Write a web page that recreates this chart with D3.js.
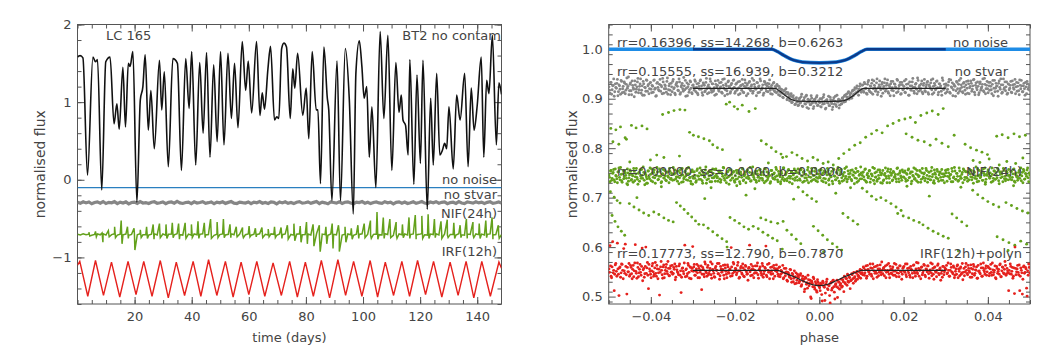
<!DOCTYPE html>
<html>
<head>
<meta charset="utf-8">
<script src="https://cdn.jsdelivr.net/npm/d3@7"></script>
<style>
body{margin:0;background:#fff;}
text{font-family:"DejaVu Sans",sans-serif;fill:#444;}
</style>
</head>
<body>
<div class="canvas"></div>
<script>
//------------------------ LEFT PANEL DATA (time in days, normalised flux as plotted)
// LC 165, BT2 no contam : [time, flux] read off the peaks and troughs
const lc165 = [[0,1.58],[0.9,1.6],[1.9,1.57],[3.5,0.06],[5.4,1.58],[6.3,1.52],[7.0,1.55],[8.5,-0.13],[9.9,1.52],[11.4,1.58],
 [12.8,0.72],[13.8,0.98],[14.6,0.65],[15.9,1.45],[16.8,0.68],[17.8,1.5],[18.4,1.46],[19.4,1.65],[20.8,-0.29],[22.0,1.03],
 [22.9,1.2],[23.7,1.61],[24.8,0.64],[25.7,1.15],[26.9,0.4],[28.7,1.54],[29.5,0.9],[30.4,1.39],[31.8,0.17],[33.4,1.56],
 [35.0,1.5],[36.4,0.12],[37.9,1.56],[39.1,0.92],[40.0,1.65],[41.4,0.19],[42.8,1.51],[44.0,0.6],[45.2,1.64],[46.4,0.29],
 [47.7,1.48],[48.9,0.49],[50.1,1.65],[51.3,0.45],[52.7,1.63],[53.9,0.79],[55.0,1.5],[56.2,0.67],[57.7,1.78],[58.9,1.15],
 [59.8,1.53],[61.0,0.86],[62.7,1.78],[63.9,0.83],[64.7,1.12],[65.5,0.91],[66.7,1.43],[67.6,1.72],[69.0,0.77],[69.8,0.81],
 [70.5,0.79],[71.5,1.69],[72.3,1.76],[73.2,1.71],[74.5,0.79],[75.4,1.43],[76.1,1.18],[77.1,1.63],[78.9,0.83],[80.1,1.18],
 [81.0,0.53],[82.2,1.65],[83.6,0.9],[84.2,0.9],[85.1,-0.05],[86.3,1.71],[87.5,1.05],[88.0,0.9],[89.1,-0.27],[90.9,1.53],
 [92.1,-0.27],[93.8,1.69],[95.2,1.03],[96.6,-0.44],[97.5,1.37],[98.7,1.79],[99.6,1.46],[100.4,1.05],[101.3,1.2],[102.2,0.29],
 [103.1,0.94],[104.5,-0.1],[106.0,1.91],[107.3,0.79],[108.7,1.86],[110.1,0.12],[111.5,1.51],[112.6,0.87],[113.4,1.09],[114.0,0.77],
 [114.9,0.7],[115.8,0.32],[116.4,1.55],[117.8,-0.06],[118.9,1.35],[120.1,0.21],[121.0,1.54],[122.5,-0.38],[123.7,1.05],[124.6,0.19],
 [125.8,1.37],[126.9,0.32],[127.8,0.38],[128.6,0.47],[129.3,0.4],[130.1,0.94],[131.6,0.14],[132.8,1.09],[134.0,0.77],[135.6,1.37],
 [136.8,0.17],[137.9,1.18],[138.9,0.64],[140.0,0.96],[141.4,1.58],[142.3,0.29],[143.3,1.28],[144.1,1.11],[145.3,1.86],[146.7,0.45],
 [147.6,1.25],[148.5,1.1]];

const noNoiseLevel = -0.1;
const stvarLevel = -0.295;
const nifLevel = -0.705;

// no stvar residuals (milli-flux), one per day
const stvarResid = [5,-8,12,-3,9,-14,2,11,-6,15,-10,4,-2,13,-12,7,-5,10,-15,3,
 8,-9,14,-4,1,-11,6,12,-7,-1,10,-13,5,9,-6,16,-3,-10,2,7,
 -12,11,-5,3,13,-8,0,9,-14,6,-2,12,-9,4,15,-6,-11,8,1,-4,
 10,-13,7,-1,14,-7,3,-10,11,5,-15,9,-3,12,-8,2,-12,6,13,-5,
 -1,10,-9,4,15,-11,7,-2,-14,9,3,-6,12,-10,5,11,-4,-13,8,1,
 14,-7,6,-12,2,10,-3,-9,13,-1,7,-15,4,11,-6,9,-10,0,12,-8,
 3,15,-5,-11,8,-2,13,-7,5,10,-13,1,6,-9,14,-4,-12,9,2,-6,
 11,-3,7,-10,4,12,-8,-1,9,-5];

// NIF(24h) residuals (milli-flux), one per day
const nifResid = [3,-6,8,-2,5,-9,1,7,-4,10,-7,2,-1,9,-8,4,-3,6,-10,2,
 6,-5,9,-3,0,-8,4,8,-5,-1,7,-9,3,6,-4,10,-2,-7,1,5,
 -8,7,-3,2,9,-6,0,6,-10,4,-1,8,-6,3,10,-4,-7,5,1,-3,
 7,-9,5,-1,9,-5,2,-7,8,3,-10,6,-2,8,-5,1,-8,4,9,-3,
 -1,7,-6,3,10,-7,5,-2,-9,6,2,-4,8,-7,3,7,-3,-9,5,1,
 9,-5,4,-8,2,7,-2,-6,9,-1,5,-10,3,7,-4,6,-7,0,8,-5,
 2,10,-3,-7,5,-1,9,-5,3,7,-9,1,4,-6,9,-3,-8,6,1,-4,
 7,-2,5,-7,3,8,-5,-1,6,-3];

// NIF(24h) spikes : [time, height up, depth down]
const nifSpikes = [[4.0,.03,.02],[6.3,.04,.03],[8.6,.02,.10],[10.8,.05,.03],[13.0,.10,.04],[15.3,.18,.12],[17.5,.10,.05],
 [19.8,.08,.20],[22.0,.06,.04],[24.2,.10,.05],[26.5,.13,.06],[28.7,.14,.04],[31.0,.13,.05],[33.2,.15,.04],[35.4,.14,.06],
 [37.7,.15,.05],[39.9,.13,.04],[42.2,.17,.05],[44.4,.15,.04],[46.6,.20,.05],[48.9,.16,.04],[51.1,.20,.04],[53.4,.13,.04],
 [55.6,.10,.03],[57.8,.09,.04],[60.1,.11,.03],[62.3,.08,.03],[64.6,.09,.04],[66.8,.07,.03],[69.0,.10,.04],[71.3,.09,.05],
 [73.5,.12,.06],[75.8,.14,.08],[78.0,.11,.10],[80.2,.16,.12],[82.5,.13,.15],[84.7,.12,.22],[87.0,.10,.12],[89.2,.14,.18],
 [91.4,.12,.22],[93.7,.10,.10],[95.9,.08,.06],[98.2,.12,.05],[100.4,.14,.04],[102.6,.18,.05],[104.9,.29,.06],[107.1,.22,.05],
 [109.4,.20,.04],[111.6,.16,.05],[113.8,.13,.04],[116.1,.22,.05],[118.3,.25,.06],[120.6,.24,.05],[122.8,.26,.05],[125.0,.20,.04],
 [127.3,.17,.05],[129.5,.19,.04],[131.8,.15,.05],[134.0,.12,.04],[136.2,.20,.05],[138.5,.16,.04],[140.7,.14,.05],[143.0,.18,.04],
 [145.2,.22,.06],[147.4,.12,.05]];

// IRF(12h) : [time, flux] peaks and troughs
const irf12 = [[0,-1.10],[0.8,-1.05],[3.6,-1.50],[6.3,-1.04],[9.1,-1.49],[11.9,-1.06],[14.8,-1.51],[17.7,-1.05],[20.5,-1.48],
 [23.2,-1.05],[26.1,-1.50],[29.0,-1.04],[31.8,-1.52],[34.6,-1.06],[37.5,-1.49],[40.5,-1.05],[43.2,-1.50],[45.9,-1.03],
 [48.8,-1.49],[51.8,-1.05],[54.5,-1.51],[57.3,-1.06],[60.0,-1.48],[62.8,-1.05],[65.6,-1.50],[68.5,-1.07],[71.4,-1.49],
 [74.3,-1.05],[77.0,-1.51],[79.8,-1.06],[82.6,-1.50],[85.4,-1.04],[88.3,-1.52],[91.2,-1.03],[93.9,-1.49],[96.7,-1.05],
 [99.6,-1.50],[102.5,-1.04],[105.1,-1.51],[107.8,-1.06],[110.7,-1.49],[113.6,-1.05],[116.3,-1.50],[119.1,-1.04],[121.9,-1.48],
 [124.7,-1.05],[127.6,-1.51],[130.5,-1.06],[133.3,-1.49],[136.1,-1.05],[138.8,-1.52],[141.6,-1.05],[144.6,-1.50],[147.6,-1.06],
 [148.5,-1.14]];

const lcXTicks = [20,40,60,80,100,120,140];
const lcYTicks = [-1,0,1,2];

//------------------------ RIGHT PANEL DATA (phase, normalised flux)
// no noise : data and fitted model
const phNoNoise = [[-0.05,1.0],[-0.0113,1.0],[-0.0100,0.9955],[-0.0085,0.988],[-0.0070,0.981],[-0.0055,0.9765],[-0.0040,0.974],
 [0,0.9725],[0.0040,0.974],[0.0055,0.9765],[0.0070,0.981],[0.0085,0.988],[0.0100,0.9955],[0.0113,1.0],[0.05,1.0]];
const fitNoNoise = [[-0.03,1.0],[-0.0113,1.0],[-0.0100,0.9955],[-0.0085,0.988],[-0.0070,0.981],[-0.0055,0.9765],[-0.0040,0.974],
 [0,0.9725],[0.0040,0.974],[0.0055,0.9765],[0.0070,0.981],[0.0085,0.988],[0.0100,0.9955],[0.0113,1.0],[0.03,1.0]];
const fitNoStvar = [[-0.03,0.921],[-0.0105,0.921],[-0.0095,0.916],[-0.008,0.906],[-0.0065,0.898],[-0.005,0.895],[0,0.894],
 [0.005,0.895],[0.0065,0.898],[0.008,0.906],[0.0095,0.916],[0.0105,0.921],[0.03,0.921]];
const fitIrf = [[-0.03,0.553],[-0.010,0.553],[-0.008,0.547],[-0.006,0.540],[-0.004,0.532],[-0.002,0.525],[0,0.522],
 [0.002,0.525],[0.004,0.532],[0.006,0.540],[0.008,0.547],[0.010,0.553],[0.03,0.553]];

// display shift of the dense NIF(24h) band (flux)
const nifBandShift = -0.005;

// folded points, milli-flux, in phase order from -0.05 to 0.05 (two interleaved halves of the run)
const phStvarA = [924,911,933,918,927,905,930,921,939,914,926,909,935,920,913,931,917,942,925,908,
 929,916,936,922,904,928,919,934,912,925,940,917,907,930,923,915,937,926,910,932,
 919,927,913,938,921,906,933,918,929,915,924,941,911,928,920,935,909,926,917,931,
 914,939,922,908,930,925,916,934,912,927,920,943,918,905,932,924,913,936,921,910,
 928,917,935,923,911,931,919,938,926,907,929,914,933,920,925,912,940,918,930,915,
 922,936,909,927,918,932,924,913,939,921,906,930,916,934,925,911,928,919,937,923,
 914,931,920,908,935,926,917,929,912,938,922,927,910,933,918,925,941,915,929,921,
 906,932,924,913,936,919,928,911,934,920,926,914,930,917,923,909,931,916,925,912,
 926,908,921,913,918,903,915,909,920,898,912,904,897,910,893,906,899,889,902,894,
 887,901,893,909,884,897,890,905,882,899,893,888,906,891,880,898,894,903,886,896,
 892,884,900,889,908,895,881,898,891,886,903,893,878,897,889,905,884,894,899,887,
 896,890,902,893,907,897,903,912,899,908,903,915,906,918,910,921,913,907,925,916,
 919,928,913,930,921,909,934,917,926,912,938,920,927,915,932,908,923,936,918,929,
 911,925,940,919,931,914,927,906,935,922,916,930,924,912,937,920,928,909,933,918,
 925,913,939,921,930,907,926,917,934,923,911,929,919,942,915,927,920,936,910,931,
 916,924,933,912,928,921,938,909,925,931,918,935,922,913,930,926,907,937,919,923,
 930,914,927,939,911,924,932,918,926,905,935,920,929,915,941,923,912,933,917,928,
 921,936,910,925,931,919,938,913,927,922,934,908,930,917,924,940,914,929,920,935,
 912,926,933,918,929,906,937,921,925,915,931,923,940,911,928,919,934,924,909,930,
 918,927,913,936,922,929,910,933,925,916,938,920,926,914,931,907,924,935,919,928];
const phStvarB = [917,933,909,926,940,914,923,931,906,928,919,937,912,925,934,910,929,921,944,916,
 932,908,927,919,936,913,924,941,918,930,911,926,935,907,922,938,915,929,920,933,
 912,925,937,919,905,931,923,916,939,927,910,934,920,926,913,942,918,930,908,924,
 935,920,911,928,933,917,940,909,924,931,915,926,937,921,906,929,918,934,912,927,
 923,938,914,930,908,925,936,919,912,932,927,916,941,910,928,922,935,913,930,918,
 907,929,924,937,915,921,933,911,927,940,918,926,909,936,923,914,931,920,938,911,
 929,917,934,922,910,927,939,913,925,932,906,930,921,935,916,928,911,937,924,919,
 933,912,926,940,918,922,907,935,929,915,931,924,938,910,927,919,933,914,921,929,
 915,925,906,919,911,902,917,908,913,900,909,896,905,892,903,898,888,900,893,886,
 899,891,904,885,896,902,889,907,893,880,897,888,901,894,884,899,891,906,887,895,
 900,883,894,903,890,879,897,892,905,886,898,890,883,902,895,888,907,893,881,896,
 889,901,897,905,894,909,900,914,904,911,901,917,909,922,912,926,915,919,930,913,
 927,916,933,920,911,929,937,914,925,931,909,936,922,918,940,913,928,924,905,933,
 920,932,915,927,938,911,924,930,917,935,906,929,921,939,914,926,933,910,928,919,
 936,912,929,921,907,934,918,926,941,915,923,931,910,937,924,917,930,913,927,939,
 914,928,935,909,925,932,918,940,912,927,920,936,908,930,923,915,942,919,929,911,
 927,919,934,913,938,922,906,929,925,916,933,911,937,920,928,914,931,924,909,935,
 911,930,922,936,915,926,939,908,932,918,925,912,934,921,929,916,941,910,927,920,
 933,917,925,910,937,921,914,931,926,905,936,919,928,913,940,922,916,934,911,929,
 921,935,912,928,919,939,924,915,932,908,927,937,914,926,920,933,910,930,923,917];

const phNifA = [751,737,760,744,756,741,763,748,735,757,746,766,739,753,743,759,750,733,755,745,
 761,740,752,736,758,747,764,742,754,738,749,762,744,756,731,751,743,759,747,765,
 739,755,746,761,734,750,757,742,763,748,737,753,745,760,740,756,749,735,758,744,
 752,766,741,754,747,738,759,745,762,736,751,743,757,749,764,740,753,746,733,761,
 744,757,750,739,763,748,755,742,760,734,752,746,767,741,756,749,737,758,745,754,
 762,738,751,747,759,743,736,755,748,765,740,753,745,758,732,750,761,744,756,739,
 749,760,743,754,737,757,746,763,741,752,735,759,748,744,766,739,755,750,742,758,
 736,753,747,761,744,756,740,751,764,738,757,745,749,734,760,752,743,755,747,762,
 741,758,750,737,754,746,765,742,753,739,760,748,744,757,733,751,763,745,756,740,
 755,743,761,749,736,758,745,752,740,766,747,754,738,759,750,742,764,746,737,753,
 748,762,739,755,744,757,735,751,760,743,753,747,738,763,749,741,756,745,761,734,
 757,745,752,740,764,748,737,759,746,754,742,761,750,733,755,744,758,739,752,767,
 743,756,747,762,738,751,745,759,736,753,749,740,764,746,757,742,750,761,735,754,
 760,741,754,748,735,763,744,756,750,739,758,746,752,737,765,743,755,749,740,757,
 746,759,738,752,761,745,754,733,757,748,742,763,739,751,747,760,736,755,744,753,
 739,764,750,743,756,741,759,747,735,761,752,744,758,738,755,746,762,740,753,749,
 755,738,762,747,751,737,758,745,766,742,754,748,740,759,744,752,735,761,746,757,
 744,757,741,753,760,746,734,756,749,743,763,738,751,747,758,740,754,765,742,750,
 761,747,755,736,752,744,759,742,750,764,739,757,745,753,737,760,748,743,756,741,
 750,742,758,746,762,738,753,747,740,756,744,765,749,735,759,743,752,761,745,755];
const phNifB = [746,759,740,754,762,737,750,743,757,765,741,752,736,760,747,755,744,763,738,751,
 758,742,749,764,739,753,746,732,756,761,744,750,767,740,755,747,734,759,743,752,
 763,737,756,745,751,766,741,748,758,735,753,762,744,749,739,757,746,764,742,754,
 740,752,761,743,758,747,733,755,750,764,737,746,759,741,753,766,745,738,757,748,
 757,744,736,760,749,742,765,751,739,756,747,761,734,754,743,758,750,737,763,745,
 748,763,745,738,755,759,741,753,766,744,750,735,757,747,762,740,752,745,758,736,
 742,755,760,747,733,752,764,739,749,757,745,761,743,756,738,751,767,746,754,740,
 759,746,739,762,751,744,757,735,763,748,741,755,750,737,760,745,753,742,766,749,
 737,753,747,758,742,765,739,751,756,744,762,736,748,757,743,754,740,759,747,763,
 754,740,763,749,756,738,752,745,761,735,757,746,764,741,750,758,739,753,744,760,
 745,761,752,737,759,743,756,764,740,751,747,758,733,762,748,741,755,766,738,752,
 762,738,749,756,744,767,742,753,747,760,739,751,757,745,764,736,758,750,743,755,
 750,757,741,763,736,754,748,760,743,752,766,740,755,747,738,761,744,756,751,734,
 739,751,765,744,758,749,735,762,754,741,756,748,743,764,752,737,759,745,761,747,
 756,743,754,740,763,746,757,738,750,765,744,753,760,736,749,758,742,764,747,755,
 744,760,736,757,748,741,766,752,739,755,746,762,743,751,757,740,753,747,735,760,
 761,748,755,743,752,764,737,747,759,742,754,738,765,748,744,756,763,741,758,746,
 738,756,762,747,741,753,758,744,767,737,749,760,745,755,740,763,750,736,752,757,
 753,744,748,765,738,759,742,756,745,761,733,752,757,747,764,743,739,758,750,762,
 747,758,741,753,763,736,755,749,744,760,751,739,756,762,742,754,748,765,737,751];

const phIrfA = [556,603,541,560,548,512,564,551,608,545,558,539,566,553,597,547,561,505,550,567,
 544,559,536,563,552,605,547,568,540,555,549,561,532,557,546,600,558,543,565,551,
 538,562,550,545,569,541,556,548,503,560,553,537,564,546,559,551,571,542,557,549,
 563,547,555,534,561,550,544,566,552,539,558,546,604,554,541,567,549,560,536,557,
 551,565,543,556,548,562,538,553,514,559,545,570,550,541,563,547,557,544,566,552,
 540,558,553,567,546,535,561,549,555,543,564,551,538,560,547,556,599,542,569,550,
 557,544,563,552,539,558,548,566,541,554,561,545,533,559,550,565,543,555,547,562,
 548,568,537,556,551,543,562,546,559,602,540,553,567,549,545,560,536,557,552,564,
 556,541,560,545,551,563,538,548,557,533,549,542,555,536,547,530,552,540,527,545,
 538,531,546,524,541,535,515,537,528,543,522,533,496,527,539,519,530,512,534,524,
 518,527,504,531,521,492,525,535,514,522,487,529,517,533,509,524,520,498,530,515,
 526,519,534,510,528,537,523,531,540,516,533,544,527,538,531,547,535,541,549,537,
 553,544,558,548,562,541,555,550,566,545,557,536,560,551,547,563,542,556,549,570,
 546,559,553,538,564,550,545,561,548,556,543,567,552,540,558,547,562,551,535,557,
 561,549,544,566,552,558,539,555,547,563,550,541,569,546,557,553,536,560,548,565,
 543,556,550,562,537,554,548,566,545,559,551,540,563,547,556,533,552,561,544,558,
 555,546,568,541,553,559,549,562,538,551,545,564,556,542,560,548,534,557,550,567,
 547,563,552,539,557,546,565,543,554,560,537,551,548,566,541,558,553,545,562,550,
 560,542,556,549,568,544,553,538,561,547,555,564,540,552,559,546,571,543,557,548,
 553,566,545,559,541,506,557,550,563,544,512,558,548,535,562,549,556,501,543,559];
const phIrfB = [549,562,538,611,553,545,567,541,556,502,560,548,565,536,552,606,544,559,550,541,
 563,546,555,540,568,551,537,559,548,565,543,598,554,539,561,547,569,516,556,545,
 552,567,541,558,547,563,536,555,549,571,544,560,538,553,565,546,557,542,562,550,
 545,559,566,539,554,548,562,543,508,557,551,568,540,556,546,563,537,559,552,601,
 560,543,551,565,538,557,549,562,545,555,540,566,548,559,544,552,570,537,555,547,
 539,561,553,546,567,542,556,550,563,536,558,545,564,549,554,541,560,547,566,551,
 556,548,569,537,552,561,545,558,540,563,550,546,557,604,542,555,561,538,553,548,
 562,544,554,560,547,567,539,551,557,543,565,549,536,559,552,546,563,541,556,550,
 545,559,540,553,548,536,557,542,550,531,546,539,554,529,544,537,526,548,533,541,
 528,543,521,536,531,510,539,525,517,534,527,499,531,520,536,515,526,509,529,521,
 512,525,491,528,519,507,530,516,523,502,527,513,532,520,495,526,533,518,529,523,
 535,521,530,541,526,536,545,529,538,532,546,536,549,540,534,551,543,539,555,546,
 548,560,543,554,537,563,550,545,558,541,566,552,547,561,539,556,549,564,544,553,
 557,542,562,549,553,567,538,555,546,560,551,543,565,548,557,540,562,550,545,559,
 551,566,540,557,548,543,561,553,538,564,547,556,549,568,541,554,559,544,552,563,
 540,555,562,546,551,568,542,557,535,560,549,553,566,544,558,547,539,561,550,555,
 563,548,553,541,566,550,546,559,543,556,562,538,551,557,545,567,549,542,560,553,
 544,557,549,564,539,555,561,547,553,537,563,552,546,558,541,568,550,557,543,561,
 558,547,565,543,554,549,562,536,557,551,545,566,540,560,548,555,563,546,552,512,
 546,561,551,537,558,600,544,556,549,564,541,553,505,560,547,559,517,552,566,548];

// sparse NIF(24h) points away from the band : [milli-phase, milli-flux]
const phNifSparse = [[-49.5,840],[-48.3,837],[-47.2,843],[-45.8,818],[-44.6,846],[-43.5,841],[-42.1,845],[-40.9,839],[-49,813],
 [-47.6,808],[-46.1,821],[-37.2,868],[-35.8,872],[-34.5,876],[-33.1,878],[-31.9,877],[-30.8,832],[-29.9,826],[-28.7,823],
 [-27.4,819],[-26.1,815],[-25.3,807],[-24.2,801],[-23,797],[-22.1,889],[-21.3,893],[-20.2,884],[-19.4,879],[-18.3,887],
 [-16.7,874],[-15.2,880],[-13.8,815],[-12.6,808],[-11.4,801],[-10.3,793],[-9.1,788],[-7.8,783],[-6.5,791],[-5.3,786],
 [-4.1,779],[-2.8,774],[-1.5,781],[-0.4,776],[0.9,769],[2.1,772],[3.3,766],[4.6,779],[5.8,789],[7.1,797],[8.4,806],
 [9.7,811],[11,822],[12.4,829],[13.6,836],[14.9,831],[16.2,845],[17.5,850],[18.9,856],[20.3,859],[21.6,862],[22.8,852],
 [24.1,866],[25.5,871],[26.8,875],[28.2,868],[29.4,880],[20.6,829],[22,822],[23.4,816],[24.9,813],[26.3,806],[27.7,818],
 [29.1,810],[30.6,803],[32,826],[34.6,808],[35.9,801],[37.3,796],[38.6,792],[39.9,787],[42.1,824],[43.4,827],[44.8,821],
 [46.2,829],[47.5,823],[48.9,826],[36.5,775],[38.1,771],[40.3,778],[42.7,766],[44.5,773],[46.6,769],[48.3,780],[-38.6,786],
 [-36.9,781],[-40.1,776],[-45,772],[-33.2,784],[-18.8,776],[-12.1,770],[-8.7,781],
 [-49.6,712],[-48.7,701],[-48,694],[-47.3,689],[-49.2,664],[-48.5,652],[-47.8,641],[-47,632],[-46.2,624],[-45.1,688],
 [-44,681],[-42.8,675],[-41.7,669],[-40.5,664],[-39.3,671],[-38.1,666],[-36.9,659],[-35.8,654],[-34.7,651],[-33.9,690],
 [-33,683],[-32.1,676],[-31.2,668],[-30.3,661],[-29.4,653],[-28.6,646],[-27.5,645],[-26.4,638],[-25.3,631],[-24.2,624],
 [-23.1,617],[-22,611],[-21.2,660],[-20.1,654],[-19,648],[-17.9,641],[-16.8,636],[-15.7,642],[-14.5,637],[-13.4,630],
 [-12.2,624],[-11.1,618],[-10,613],[-13.9,659],[-12.7,655],[-11.5,651],[-9.9,648],[-8.6,652],[-7.7,634],[-6.6,625],
 [-5.5,616],[-4.4,607],[-3.9,712],[-2.9,705],[-1.8,698],[-0.7,692],[-1.4,642],[-0.3,633],[0.8,624],[1.9,615],[3.1,607],
 [4.2,600],[5.3,594],[5.6,668],[6.8,660],[8,653],[9.1,646],[10.2,719],[11.3,712],[12.4,703],[13.5,696],[14.6,700],
 [15.8,694],[17,688],[18.2,681],[19.4,674],[18.6,668],[19.9,663],[21.2,659],[22.4,654],[23.7,650],[24.6,645],[25.8,638],
 [27,632],[28.2,627],[29.4,622],[30.6,618],[31.5,667],[32.6,659],[33.8,651],[35,643],[36.4,715],[37.6,706],[38.8,699],
 [40,692],[41.3,686],[42.6,681],[42.2,621],[43.6,615],[45,609],[46.4,604],[47.8,612],[49.2,606],[44.3,690],[45.6,684],
 [46.9,678],[48.2,673],[49.5,669],[-45.5,726],[-41,729],[-37.5,722],[-30.1,727],[-25.7,720],[-19.6,724],[-15.3,718],
 [-9.2,728],[-5,721],[2.3,726],[7.4,720],[13.1,728],[20.8,723],[27.3,729],[33.6,721],[39.4,727],[46.1,724],[-43.3,700],
 [-27.2,698],[-17.4,705],[-6.1,697],[3.9,709],[26.1,703],[-21.9,600],[-8.8,596],[1,590],[33,592],[44.8,593]];

const phXTicks = [-0.04,-0.02,0,0.02,0.04];
const phYTicks = [0.5,0.6,0.7,0.8,0.9,1.0];

//------------------------ COLOURS
const cBlack = '#111', cBlue = '#1e8ce6', cNavy = '#0c3a8a', cGray = '#868686', cGreen = '#63a11c', cRed = '#e5211d';

//------------------------ SVG
const svg = d3.select('.canvas').append('svg')
  .attr('width', 1063).attr('height', 354)
  .style('background', '#fff');

const L = {x0: 77.5, x1: 501.5, y0: 24.5, y1: 304};
const R = {x0: 608.7, x1: 1030, y0: 24.5, y1: 304};

const xL = d3.scaleLinear().domain([0, 148.5]).range([L.x0, L.x1]);
const yL = d3.scaleLinear().domain([-1.6, 2.0]).range([L.y1, L.y0]);
const xR = d3.scaleLinear().domain([-0.05, 0.05]).range([R.x0, R.x1]);
const yR = d3.scaleLinear().domain([0.485, 1.05]).range([R.y1, R.y0]);

// clip paths
const defs = svg.append('defs');
[['clipL', L], ['clipR', R]].forEach(([id, b]) => {
  defs.append('clipPath').attr('id', id).append('rect')
    .attr('x', b.x0).attr('y', b.y0).attr('width', b.x1 - b.x0).attr('height', b.y1 - b.y0);
});

//------------------------ AXES (IDL style: box, ticks inward on all sides)
function drawFrame(box, x, y, xMaj, xMin, yMaj, yMin, fx, fy) {
  const g = svg.append('g').attr('color', '#555');
  const put = (gen, tr, vals, size, fmt, pad) => {
    g.append('g').attr('transform', tr)
      .call(gen.tickValues(vals).tickSize(size).tickPadding(pad).tickFormat(fmt))
      .call(s => s.select('.domain').remove())
      .call(s => s.selectAll('text').attr('font-size', 13).attr('font-family', '"DejaVu Sans", sans-serif'));
  };
  const none = () => '';
  put(d3.axisBottom(x), `translate(0,${box.y1})`, xMaj, -7, fx, 8);
  put(d3.axisBottom(x), `translate(0,${box.y1})`, xMin, -4, none, 8);
  put(d3.axisTop(x), `translate(0,${box.y0})`, xMaj, -7, none, 3);
  put(d3.axisTop(x), `translate(0,${box.y0})`, xMin, -4, none, 3);
  put(d3.axisLeft(y), `translate(${box.x0},0)`, yMaj, -7, fy, 6);
  put(d3.axisLeft(y), `translate(${box.x0},0)`, yMin, -4, none, 6);
  put(d3.axisRight(y), `translate(${box.x1},0)`, yMaj, -7, none, 3);
  put(d3.axisRight(y), `translate(${box.x1},0)`, yMin, -4, none, 3);
  g.append('rect').attr('x', box.x0).attr('y', box.y0)
    .attr('width', box.x1 - box.x0).attr('height', box.y1 - box.y0)
    .attr('fill', 'none').attr('stroke', '#555').attr('stroke-width', 1);
}

drawFrame(L, xL, yL, lcXTicks, d3.range(0, 149, 5), lcYTicks, d3.range(-16, 21, 2).map(d => d / 10),
  d3.format('d'), d3.format('d'));
drawFrame(R, xR, yR, phXTicks, d3.range(-50, 51, 5).map(d => d / 1000), phYTicks,
  d3.range(49, 106, 2).map(d => d / 100), d3.format('.2f'), d3.format('.1f'));

// axis titles
svg.append('text').attr('x', (L.x0 + L.x1) / 2).attr('y', 342).attr('text-anchor', 'middle')
  .attr('font-size', 13).text('time (days)');
svg.append('text').attr('x', (R.x0 + R.x1) / 2).attr('y', 342).attr('text-anchor', 'middle')
  .attr('font-size', 13).text('phase');
svg.append('text').attr('transform', `translate(45,${(L.y0 + L.y1) / 2}) rotate(-90)`)
  .attr('text-anchor', 'middle').attr('font-size', 14).text('normalised flux');
svg.append('text').attr('transform', `translate(577,${(R.y0 + R.y1) / 2}) rotate(-90)`)
  .attr('text-anchor', 'middle').attr('font-size', 14).text('normalised flux');

//------------------------ LEFT PANEL
const gl = svg.append('g').attr('clip-path', 'url(#clipL)');
const label = (g, x, y, txt, anchor) => g.append('text').attr('x', x).attr('y', y)
  .attr('text-anchor', anchor || 'start').attr('font-size', 13).text(txt);

label(svg, 106, 40, 'LC 165');
label(svg, 501, 40, 'BT2 no contam', 'end');
label(svg, 497, 184, 'no noise', 'end');
label(svg, 497, 199, 'no stvar', 'end');
label(svg, 497, 218, 'NIF(24h)', 'end');
label(svg, 497, 256, 'IRF(12h)', 'end');

const lineL = d3.line().x(d => xL(d[0])).y(d => yL(d[1]));
const tOf = (i, n) => i * 148.5 / (n - 1);

// no stvar
gl.append('path')
  .datum(stvarResid.map((r, i) => [tOf(i, stvarResid.length), stvarLevel + r / 1000]))
  .attr('d', lineL).attr('fill', 'none').attr('stroke', cGray).attr('stroke-width', 3.2);

// NIF(24h): baseline plus spikes
const nifPts = nifResid.map((r, i) => [tOf(i, nifResid.length), nifLevel + r / 1000]);
nifSpikes.forEach(s => {
  nifPts.push([s[0], nifLevel + s[1]]);
  nifPts.push([s[0] + 0.3, nifLevel - s[2]]);
});
nifPts.sort((a, b) => a[0] - b[0]);
gl.append('path').datum(nifPts)
  .attr('d', lineL).attr('fill', 'none').attr('stroke', cGreen).attr('stroke-width', 1.5);

// IRF(12h)
gl.append('path').datum(irf12)
  .attr('d', lineL).attr('fill', 'none').attr('stroke', cRed).attr('stroke-width', 1.4);

// no noise
gl.append('path').datum([[0, noNoiseLevel], [148.5, noNoiseLevel]])
  .attr('d', lineL).attr('fill', 'none').attr('stroke', '#2a7fc0').attr('stroke-width', 1.2);

// LC 165
gl.append('path').datum(lc165)
  .attr('d', lineL.curve(d3.curveMonotoneX)).attr('fill', 'none')
  .attr('stroke', cBlack).attr('stroke-width', 1.6);

//------------------------ RIGHT PANEL
const gr = svg.append('g').attr('clip-path', 'url(#clipR)');
const lineR = d3.line().x(d => xR(d[0])).y(d => yR(d[1])).curve(d3.curveMonotoneX);
// phase of the i-th folded point; the two halves sit between each other
const phOf = (i, n, half) => -0.05 + (i + (half ? 0.75 : 0.25)) * 0.1 / n;
const folded = (arr, half, shift) => arr.map((f, i) => [phOf(i, arr.length, half), f / 1000 + (shift || 0)]);

const dots = (arr, color) => gr.append('g').selectAll('circle').data(arr).join('circle')
  .attr('cx', d => xR(d[0])).attr('cy', d => yR(d[1])).attr('r', 1.45).attr('fill', color);

gr.append('path').datum(phNoNoise).attr('d', lineR)
  .attr('fill', 'none').attr('stroke', cBlue).attr('stroke-width', 3.6);
gr.append('path').datum(fitNoNoise).attr('d', lineR)
  .attr('fill', 'none').attr('stroke', cNavy).attr('stroke-width', 2.4);

dots(folded(phStvarA, 0).concat(folded(phStvarB, 1)), cGray);
dots(folded(phNifA, 0, nifBandShift).concat(folded(phNifB, 1, nifBandShift)), cGreen);
dots(phNifSparse.map(d => [d[0] / 1000, d[1] / 1000]), cGreen);
dots(folded(phIrfA, 0).concat(folded(phIrfB, 1)), cRed);

gr.append('path').datum(fitNoStvar).attr('d', lineR)
  .attr('fill', 'none').attr('stroke', '#222').attr('stroke-width', 1.2);
gr.append('path').datum(fitIrf).attr('d', lineR)
  .attr('fill', 'none').attr('stroke', '#222').attr('stroke-width', 1.2);

// fit results, written over the points
label(svg, 617, 47, 'rr=0.16396, ss=14.268, b=0.6263');
label(svg, 1008, 47, 'no noise', 'end');
label(svg, 617, 76, 'rr=0.15555, ss=16.939, b=0.3212');
label(svg, 1008, 76, 'no stvar', 'end');
label(svg, 617, 176, 'rr=0.00000, ss=0.0000, b=0.0000');
label(svg, 1022, 176, 'NIF(24h)', 'end');
label(svg, 617, 258, 'rr=0.17773, ss=12.790, b=0.7870');
label(svg, 1022, 258, 'IRF(12h)+polyn', 'end');
</script>
</body>
</html>
